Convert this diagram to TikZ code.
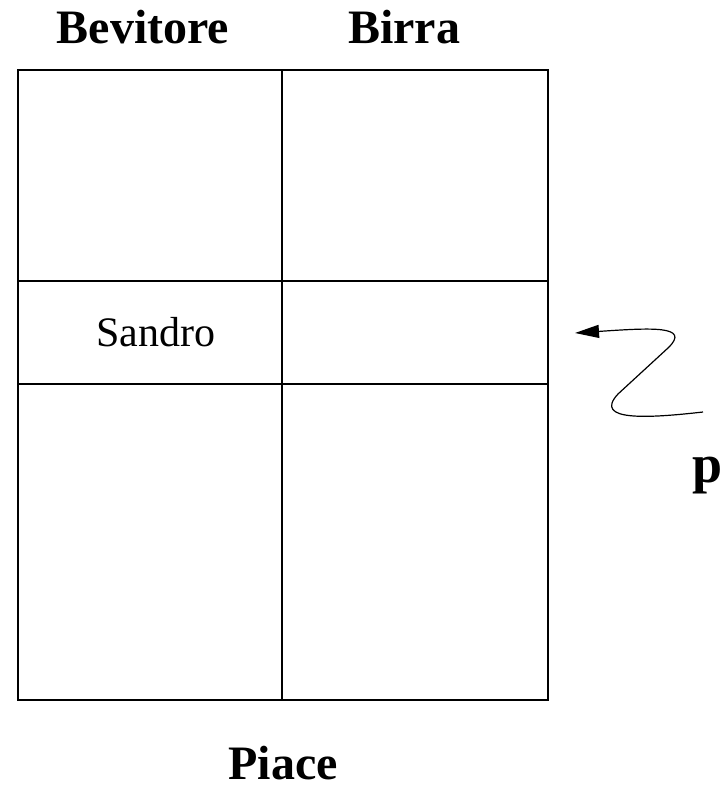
\documentclass[tikz,border=0pt]{standalone}
\usepackage{fontspec}
\setmainfont{Liberation Serif}
\usetikzlibrary{arrows.meta}
\tikzset{
  grid/.style={line width=1.3pt, black},
  head/.style={font=\fontsize{48}{54}\selectfont\bfseries, anchor=base, inner sep=0pt},
  cell/.style={font=\fontsize{42}{48}\selectfont, anchor=base, inner sep=0pt},
  ptr/.style={line width=1.2pt, -{Triangle[length=24pt,width=13pt]}}
}
\begin{document}
\begin{tikzpicture}[x=1pt,y=-1pt]
\useasboundingbox (0,0) rectangle (725,793);
% table frame and rules
\draw[grid] (18,70) rectangle (548,700);
\draw[grid] (282,70) -- (282,700);
\draw[grid] (18,281) -- (548,281);
\draw[grid] (18,384) -- (548,384);
% column headings
\node[head] (bev) at (143,43) {Bevitore};
\node[head] (bir) at (404,43) {Birra};
% cell content
\node[cell] (san) at (156,346) {Sandro};
% relation name
\node[head] (pia) at (283,779) {Piace};
% pointer label
\node[head, font=\fontsize{54}{60}\selectfont\bfseries] (p) at (708,482) {p};
% pointer
\coordinate (zs) at (703,412);
\coordinate (zt) at (575,333);
\draw[ptr] (zs) .. controls (650,418) and (592,422) .. (618,394)
  -- (668,348) .. controls (692,325) and (650,328) .. (zt);
\end{tikzpicture}
\end{document}
